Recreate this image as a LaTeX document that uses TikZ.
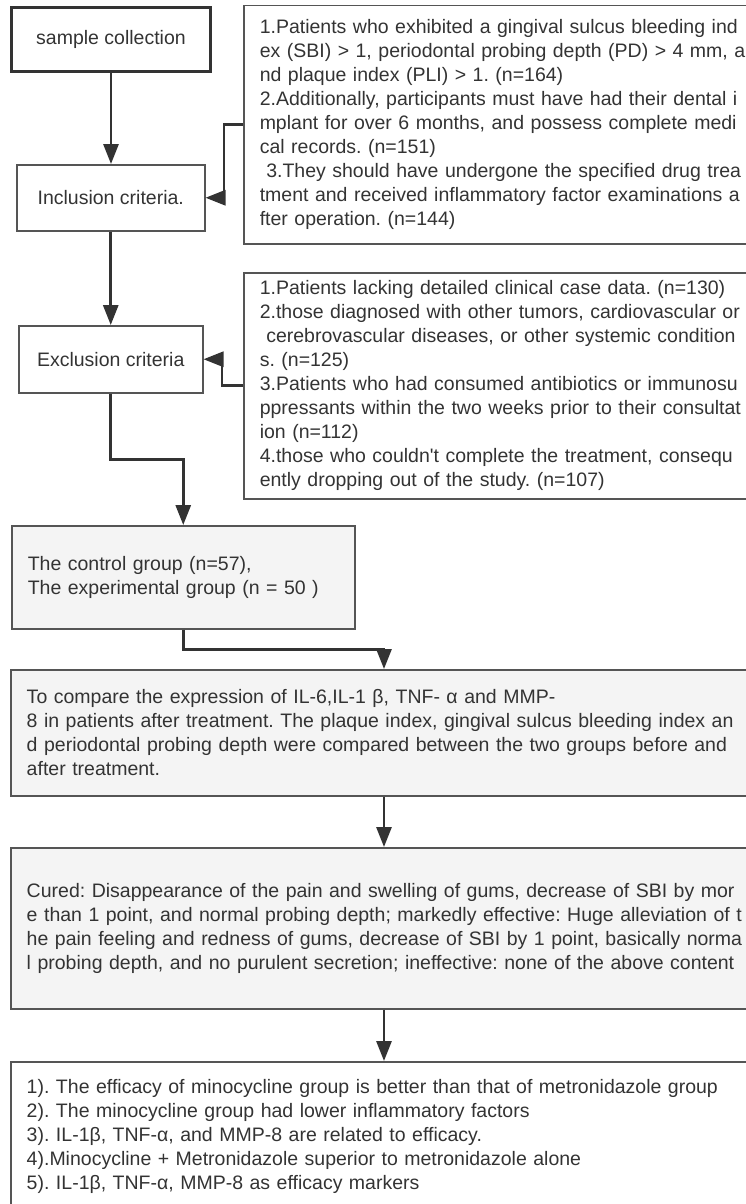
\documentclass[tikz,border=0pt]{standalone}
\usepackage{fontspec}
\setmainfont{Liberation Sans}
\usepackage{xcolor}
\usepackage{tikz}
\usetikzlibrary{arrows.meta}
\definecolor{boxline}{RGB}{85, 85, 85}
\definecolor{inkgray}{RGB}{51, 51, 51}
\definecolor{panel}{RGB}{244, 244, 244}

\begin{document}
\begin{tikzpicture}[x=1pt,y=1pt,yscale=-1,xscale=1,
  every node/.style={font=\fontsize{19.5}{24}\selectfont\frenchspacing, text=inkgray},
  stepbox/.style={draw=boxline, line width=1.5pt, rectangle, anchor=north west, inner sep=0pt, align=center},
  notebox/.style={draw=boxline, line width=1.5pt, rectangle, anchor=north west, inner xsep=16pt, inner ysep=0pt, align=left, text width=#1},
  flow/.style={draw=inkgray, line width=2.8pt, -{Triangle[length=20pt,width=15pt]}}
]
\useasboundingbox (0,0) rectangle (746,1204);
\clip (0,0) rectangle (746,1204);

%Shape: Rectangle
\node [stepbox, draw=inkgray, line width=3pt, minimum width=199, minimum height=64] (sample) at (10,6) {sample collection};
%Shape: Rectangle
\node [stepbox, minimum width=188, minimum height=66] (incl) at (16,164) {Inclusion criteria.};
%Shape: Rectangle
\node [stepbox, minimum width=184, minimum height=67] (excl) at (18,325) {Exclusion criteria};

% Text Node
\node [notebox=600, minimum height=238] (incnote) at (243,5) {1.Patients who exhibited a gingival sulcus bleeding ind\\ex (SBI) > 1, periodontal probing depth (PD) > 4 mm, a\\nd plaque index (PLI) > 1. (n=164)\\2.Additionally, participants must have had their dental i\\mplant for over 6 months, and possess complete medi\\cal records. (n=151)\\~3.They should have undergone the specified drug trea\\tment and received inflammatory factor examinations a\\fter operation. (n=144)};
% Text Node
\node [notebox=600, minimum height=226] (excnote) at (243,272) {1.Patients lacking detailed clinical case data. (n=130)\\2.those diagnosed with other tumors, cardiovascular or\\~cerebrovascular diseases, or other systemic condition\\s. (n=125)\\3.Patients who had consumed antibiotics or immunosu\\ppressants within the two weeks prior to their consultat\\ion (n=112)\\4.those who couldn\textquotesingle t complete the treatment, consequ\\ently dropping out of the study. (n=107)};
% Text Node
\node [notebox=311, fill=panel, minimum width=343, minimum height=103] (groups) at (11,525) {The control group (n=57),\\The experimental group (n = 50 )};
% Text Node
\node [notebox=740, fill=panel, minimum height=126] (compare) at (10,669) {To compare the expression of IL-6,IL-1 β, TNF- α and MMP-\\8 in patients after treatment. The plaque index, gingival sulcus bleeding index an\\d periodontal probing depth were compared between the two groups before and\\after treatment.};
% Text Node
\node [notebox=740, fill=panel, minimum height=161] (grading) at (10,847) {Cured: Disappearance of the pain and swelling of gums, decrease of SBI by mor\\e than 1 point, and normal probing depth; markedly effective: Huge alleviation of t\\he pain feeling and redness of gums, decrease of SBI by 1 point, basically norma\\l probing depth, and no purulent secretion; ineffective: none of the above content};
% Text Node
\node [notebox=740, minimum height=150] (findings) at (10,1061) {1). The efficacy of minocycline group is better than that of metronidazole group\\2). The minocycline group had lower inflammatory factors\\3). IL-1β, TNF-α, and MMP-8 are related to efficacy.\\4).Minocycline + Metronidazole superior to metronidazole alone\\5). IL-1β, TNF-α, MMP-8 as efficacy markers};

\coordinate (spine) at (384,0);

%Straight Lines
\draw [flow] (sample.south) -- (sample.south |- incl.north);
%Elbow Lines
\draw [flow] (incnote.west) -- ++(-19,0) |- (incl.east);
%Straight Lines
\draw [flow] (incl.south) -- (incl.south |- excl.north);
%Elbow Lines
\draw [flow] (excnote.west) -- ++(-21,0) |- (excl.east);
%Elbow Lines
\draw [flow] (excl.south) -- ++(0,66) -| (groups.north);
%Elbow Lines
\draw [flow] (groups.south) -- ++(0,20) -| (compare.north -| spine);
%Straight Lines
\draw [flow] (compare.south -| spine) -- (grading.north -| spine);
%Straight Lines
\draw [flow] (grading.south -| spine) -- (findings.north -| spine);

\end{tikzpicture}
\end{document}
